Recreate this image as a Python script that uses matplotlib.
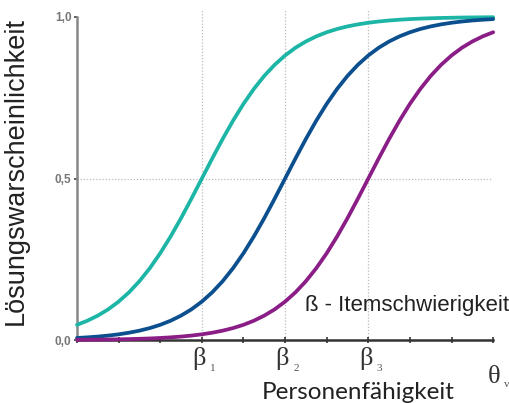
import matplotlib
matplotlib.use("Agg")
import matplotlib.pyplot as plt

# Ability axis positions (theta), 0 .. 10 in quarter steps
theta = [0, 0.25, 0.5, 0.75, 1, 1.25, 1.5, 1.75, 2, 2.25, 2.5, 2.75, 3, 3.25, 3.5, 3.75,
         4, 4.25, 4.5, 4.75, 5, 5.25, 5.5, 5.75, 6, 6.25, 6.5, 6.75, 7, 7.25, 7.5, 7.75,
         8, 8.25, 8.5, 8.75, 9, 9.25, 9.5, 9.75, 10]

# Solving probabilities
p_item1 = [0.0474, 0.0601, 0.0759, 0.0953, 0.1192, 0.1480, 0.1824, 0.2227, 0.2689, 0.3208,
           0.3775, 0.4378, 0.5000, 0.5622, 0.6225, 0.6792, 0.7311, 0.7773, 0.8176, 0.8520,
           0.8808, 0.9047, 0.9241, 0.9399, 0.9526, 0.9627, 0.9707, 0.9770, 0.9820, 0.9859,
           0.9890, 0.9914, 0.9933, 0.9948, 0.9959, 0.9968, 0.9975, 0.9981, 0.9985, 0.9988,
           0.9991]
p_item2 = [0.0067, 0.0086, 0.0110, 0.0141, 0.0180, 0.0230, 0.0293, 0.0373, 0.0474, 0.0601,
           0.0759, 0.0953, 0.1192, 0.1480, 0.1824, 0.2227, 0.2689, 0.3208, 0.3775, 0.4378,
           0.5000, 0.5622, 0.6225, 0.6792, 0.7311, 0.7773, 0.8176, 0.8520, 0.8808, 0.9047,
           0.9241, 0.9399, 0.9526, 0.9627, 0.9707, 0.9770, 0.9820, 0.9859, 0.9890, 0.9914,
           0.9933]
p_item3 = [0.0009, 0.0012, 0.0015, 0.0019, 0.0025, 0.0032, 0.0041, 0.0052, 0.0067, 0.0086,
           0.0110, 0.0141, 0.0180, 0.0230, 0.0293, 0.0373, 0.0474, 0.0601, 0.0759, 0.0953,
           0.1192, 0.1480, 0.1824, 0.2227, 0.2689, 0.3208, 0.3775, 0.4378, 0.5000, 0.5622,
           0.6225, 0.6792, 0.7311, 0.7773, 0.8176, 0.8520, 0.8808, 0.9047, 0.9241, 0.9399,
           0.9526]

beta_positions = [3, 5, 7]
beta_subscripts = ["1", "2", "3"]
y_ticks = [0.0, 0.5, 1.0]
y_ticklabels = ["0,0", "0,5", "1,0"]
x_ticks = [0, 1, 2, 3, 4, 5, 6, 7, 8, 9, 10]

colors = ["#1cb5a6", "#0b4f8e", "#8a1d86"]
serif = ["Liberation Serif", "DejaVu Serif"]
sans = ["Liberation Sans", "DejaVu Sans"]

fig = plt.figure(figsize=(5.10, 4.03), dpi=100)
ax = fig.add_axes([0.151, 0.156, 0.816, 0.802])

# grid lines
for b in beta_positions:
    ax.axvline(b, ymin=0, ymax=1.02, color="#bbbbbb", lw=0.9, ls=(0, (1, 1.5)), zorder=1, clip_on=False)
ax.axhline(0.5, color="#bbbbbb", lw=0.9, ls=(0, (1, 1.5)), zorder=1)

for ys, c in zip([p_item1, p_item2, p_item3], colors):
    ax.plot(theta, ys, color=c, lw=2.7, solid_capstyle="round", zorder=3, clip_on=False)

ax.set_xlim(0, 10)
ax.set_ylim(0, 1.0)

for s in ["top", "right"]:
    ax.spines[s].set_visible(False)
ax.spines["left"].set_color("#888888")
ax.spines["left"].set_linewidth(1.8)
ax.spines["bottom"].set_color("#333333")
ax.spines["bottom"].set_linewidth(1.8)

ax.set_yticks(y_ticks)
ax.set_yticklabels(y_ticklabels, fontsize=8.5, color="#777777", fontweight="bold", family=sans)
ax.tick_params(axis="y", length=2, width=1.2, color="#444444", pad=2)

ax.set_xticks(x_ticks)
ax.set_xticklabels([])
ax.tick_params(axis="x", direction="inout", length=5, width=1.2, color="#333333")

for b, sub in zip(beta_positions, beta_subscripts):
    ax.annotate("β", xy=(b, 0), xycoords="data", xytext=(-2, -5), textcoords="offset points",
                ha="center", va="top", fontsize=19, color="#333333", family=serif)
    ax.annotate(sub, xy=(b, 0), xycoords="data", xytext=(8, -17), textcoords="offset points",
                ha="center", va="top", fontsize=8, color="#555555", family=serif)

fig.text(0.968, 0.065, "θ", ha="center", va="center", fontsize=19, color="#333333", family=serif)
fig.text(0.993, 0.046, "v", ha="center", va="center", fontsize=8, color="#555555", family=serif)

fig.text(0.702, 0.027, "Personenfähigkeit", ha="center", va="center", fontsize=17.5,
         color="#222222", family=["Lato", "DejaVu Sans"])
fig.text(0.03, 0.575, "Lösungswarscheinlichkeit", ha="center", va="center", rotation=90,
         fontsize=19.5, color="#222222", family=sans)
fig.text(0.598, 0.243, "ß - Itemschwierigkeit", ha="left", va="center",
         fontsize=16, color="#222222", family=sans)

fig.savefig("out.png", dpi=100)
